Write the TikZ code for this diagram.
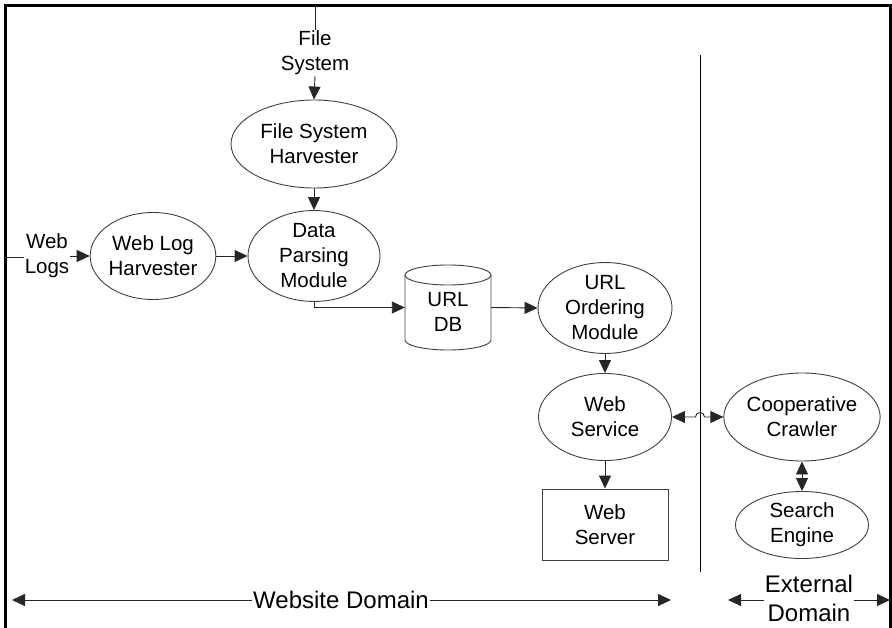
\documentclass[tikz,border=0pt]{standalone}
\usepackage{fontspec}
\setmainfont{Liberation Sans}
\usetikzlibrary{shapes.geometric,arrows.meta}

\begin{document}
\begin{tikzpicture}[x=1pt,y=-1pt,
  every node/.style={font=\fontsize{20.5}{25}\selectfont, align=center},
  blob/.style={ellipse, draw=black!75, line width=0.9pt, inner sep=0pt},
  boxnode/.style={rectangle, draw=black!75, line width=0.9pt, inner sep=0pt},
  txt/.style={inner sep=1pt},
  big/.style={font=\fontsize{24}{29}\selectfont, inner sep=1pt},
  arr/.style={draw=black!85, line width=0.9pt, -{Triangle[length=13pt,width=12pt]}},
  darr/.style={draw=black!85, line width=0.9pt, {Triangle[length=13pt,width=12pt]}-{Triangle[length=13pt,width=12pt]}},
  wire/.style={draw=black!85, line width=0.9pt}
]
\useasboundingbox (0,0) rectangle (892,628);

% outer frame (open at the bottom)
\draw[line width=3pt] (5,630) -- (5,6) -- (890,6) -- (890,630);

% inputs
\coordinate (fstop) at (315,6);
\coordinate (wlleft) at (5,257);
\node[txt] (fs) at (315,53) {File\\System};
\node[txt] (wl) at (47,256) {Web\\Logs};

% processing nodes
\node[blob, minimum width=166pt, minimum height=88pt] (fsh) at (314,144) {File System\\Harvester};
\node[blob, minimum width=132pt, minimum height=88pt] (dpm) at (314,256) {Data\\Parsing\\Module};
\node[blob, minimum width=125pt, minimum height=87pt] (whl) at (153,256) {Web Log\\Harvester};
\node[blob, minimum width=134pt, minimum height=86pt] (uom) at (605,308) {URL\\Ordering\\Module};
\node[blob, minimum width=133pt, minimum height=87pt] (ws) at (605,417) {Web\\Service};
\node[boxnode, minimum width=126pt, minimum height=71pt] (wsv) at (605,524.5) {Web\\Server};
\node[blob, minimum width=151pt, minimum height=88pt] (cc) at (802,417) {Cooperative\\Crawler};
\node[blob, minimum width=133pt, minimum height=67pt] (se) at (802,525) {Search\\Engine};

% URL database cylinder
\node[inner sep=0pt, minimum width=86pt, minimum height=85pt] (db) at (448,307.5) {};
\draw[draw=black!75, line width=0.9pt]
  (405,275) -- (405,340) arc[start angle=180, end angle=360, x radius=43pt, y radius=10pt]
  -- (491,275);
\draw[draw=black!75, line width=0.9pt] (448,275) ellipse[x radius=43pt, y radius=10pt];
\node at (448,312) {URL\\DB};

% domain separator
\coordinate (septop) at (700,55);
\coordinate (sepbot) at (700,572);
\draw[line width=0.9pt] (septop) -- (sepbot);

% connectors
\draw[wire] (fstop) -- (fs.north);
\draw[arr] (fs.south) -- (fsh.north);
\draw[arr] (fsh.south) -- (dpm.north);
\draw[wire] (wlleft) -- (wl.west |- wlleft);
\draw[arr] (wl.east) -- (whl.west);
\draw[arr] (whl.east) -- (dpm.west);
\draw[arr] (dpm.south) |- (db.west);
\draw[arr] (db.east) -- (uom.west);
\draw[arr] (uom.south) -- (ws.north);
\draw[arr] (ws.south) -- (wsv.north);
\draw[darr] (ws.east) -- (695.5,417) .. controls (695.5,411) and (704.5,411) .. (704.5,417) -- (cc.west);
\draw[darr] (cc.south) -- (se.north);

% domain labels
\node[big] (wd) at (341,600) {Website Domain};
\coordinate (wdl) at (12,600);
\coordinate (wdr) at (671,600);
\draw[arr] (wd.west) -- (wdl);
\draw[arr] (wd.east) -- (wdr);
\node[big, inner sep=0.5pt] (ed) at (809,598.5) {External\\Domain};
\coordinate (edl) at (728,600);
\coordinate (edr) at (890,600);
\draw[arr] (ed.west |- edl) -- (edl);
\draw[arr] (ed.east |- edr) -- (edr);
\end{tikzpicture}
\end{document}
